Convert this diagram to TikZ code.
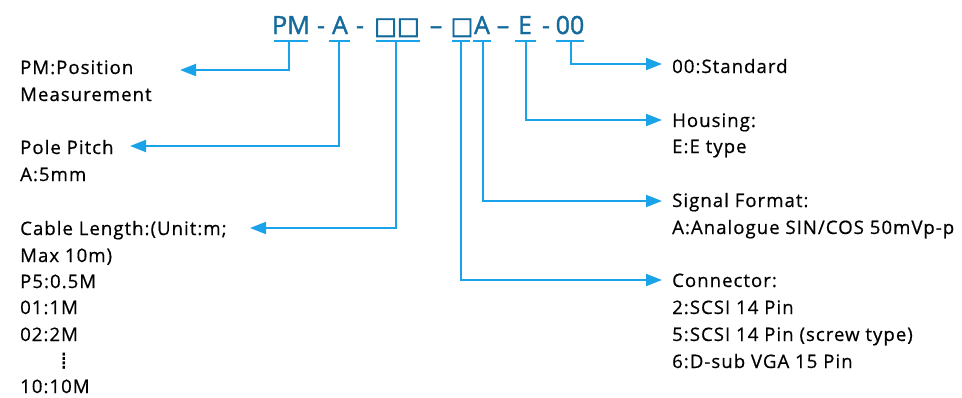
\documentclass[tikz,border=0pt]{standalone}
\usepackage{fontspec}
\setmainfont{Open Sans}[LetterSpace=5.5, FakeBold=0.6]
\newfontfamily\titlefont{Open Sans}[FakeBold=1.6]
\newfontfamily\symfont{DejaVu Sans}[FakeBold=2.5]
\newfontfamily\dotfont{DejaVu Sans}
\usetikzlibrary{arrows.meta}
\definecolor{codeblue}{HTML}{166B9D}
\definecolor{lineblue}{HTML}{1AA3E8}
\tikzset{
  code/.style={font=\titlefont\fontsize{25}{30}\selectfont, text=codeblue, anchor=base, inner sep=0pt},
  sq/.style={font=\symfont\fontsize{24}{30}\selectfont, text=codeblue, anchor=base, inner sep=0pt},
  lbl/.style={font=\fontsize{18.6}{27}\selectfont, anchor=base west, inner sep=0pt},
  uline/.style={draw=lineblue, line width=2pt},
  conn/.style={draw=lineblue, line width=2pt, -{Triangle[length=16pt,width=12pt]}}
}
\begin{document}
\begin{tikzpicture}[x=1pt,y=-1pt]
\useasboundingbox (0,0) rectangle (962,397);
% code line
\node[code] (pm) at (291,34) {PM};
\node[code] (d1) at (321,34) {-};
\node[code] (a) at (340,34) {A};
\node[code] (d2) at (360,34) {-};
\node[sq] (len) at (397,34) {□□};
\node[code] (d3) at (436,34) {–};
\node[sq] (cn) at (462,34) {□};
\node[code] (sg) at (482,34) {A};
\node[code] (d4) at (503,34) {–};
\node[code] (e) at (525,34) {E};
\node[code] (d5) at (546,34) {-};
\node[code] (oo) at (570,34) {00};
% underlines
\draw[uline] (274,41) -- (308,41);
\draw[uline] (329,41) -- (350,41);
\draw[uline] (376,41) -- (420,41);
\draw[uline] (452,41) -- (470,41);
\draw[uline] (473,41) -- (491,41);
\draw[uline] (515,41) -- (536,41);
\draw[uline] (556,41) -- (584,41);
% stem starts
\coordinate (pmU) at (289,41);
\coordinate (aU) at (339,41);
\coordinate (lenU) at (396,41);
\coordinate (cnU) at (461,41);
\coordinate (sgU) at (483,41);
\coordinate (eU) at (526,41);
\coordinate (ooU) at (571,41);
% arrow tips
\coordinate (pmT) at (180,70);
\coordinate (aT) at (130,146);
\coordinate (lenT) at (250,228);
\coordinate (ooT) at (662,64);
\coordinate (eT) at (662,120);
\coordinate (sgT) at (662,201);
\coordinate (cnT) at (662,280);
% left labels
\node[lbl] (pm1) at (20,74) {PM:Position};
\node[lbl] (pm2) at (20,101) {Measurement};
\node[lbl] (a1) at (20,154) {Pole Pitch};
\node[lbl] (a2) at (20,181) {A:5mm};
\node[lbl] (l1) at (20,235) {Cable Length:(Unit:m;};
\node[lbl] (l2) at (20,262) {Max 10m)};
\node[lbl] (l3) at (20,288) {P5:0.5M};
\node[lbl] (l4) at (20,314) {01:1M};
\node[lbl] (l5) at (20,341) {02:2M};
\node[lbl, font=\dotfont\fontsize{24}{27}\selectfont, anchor=center] (l6) at (64,361) {⁞};
\node[lbl] (l7) at (20,393) {10:10M};
% right labels
\node[lbl] (o1) at (672,73) {00:Standard};
\node[lbl] (e1) at (672,127) {Housing:};
\node[lbl] (e2) at (672,153) {E:E type};
\node[lbl] (s1) at (672,207) {Signal Format:};
\node[lbl] (s2) at (672,234) {A:Analogue SIN/COS 50mVp-p};
\node[lbl] (c1) at (672,287) {Connector:};
\node[lbl] (c2) at (672,314) {2:SCSI 14 Pin};
\node[lbl] (c3) at (672,341) {5:SCSI 14 Pin (screw type)};
\node[lbl] (c4) at (672,368) {6:D-sub VGA 15 Pin};
% connectors
\draw[conn] (pmU) |- (pmT);
\draw[conn] (aU) |- (aT);
\draw[conn] (lenU) |- (lenT);
\draw[conn] (ooU) |- (ooT);
\draw[conn] (eU) |- (eT);
\draw[conn] (sgU) |- (sgT);
\draw[conn] (cnU) |- (cnT);
\end{tikzpicture}
\end{document}
